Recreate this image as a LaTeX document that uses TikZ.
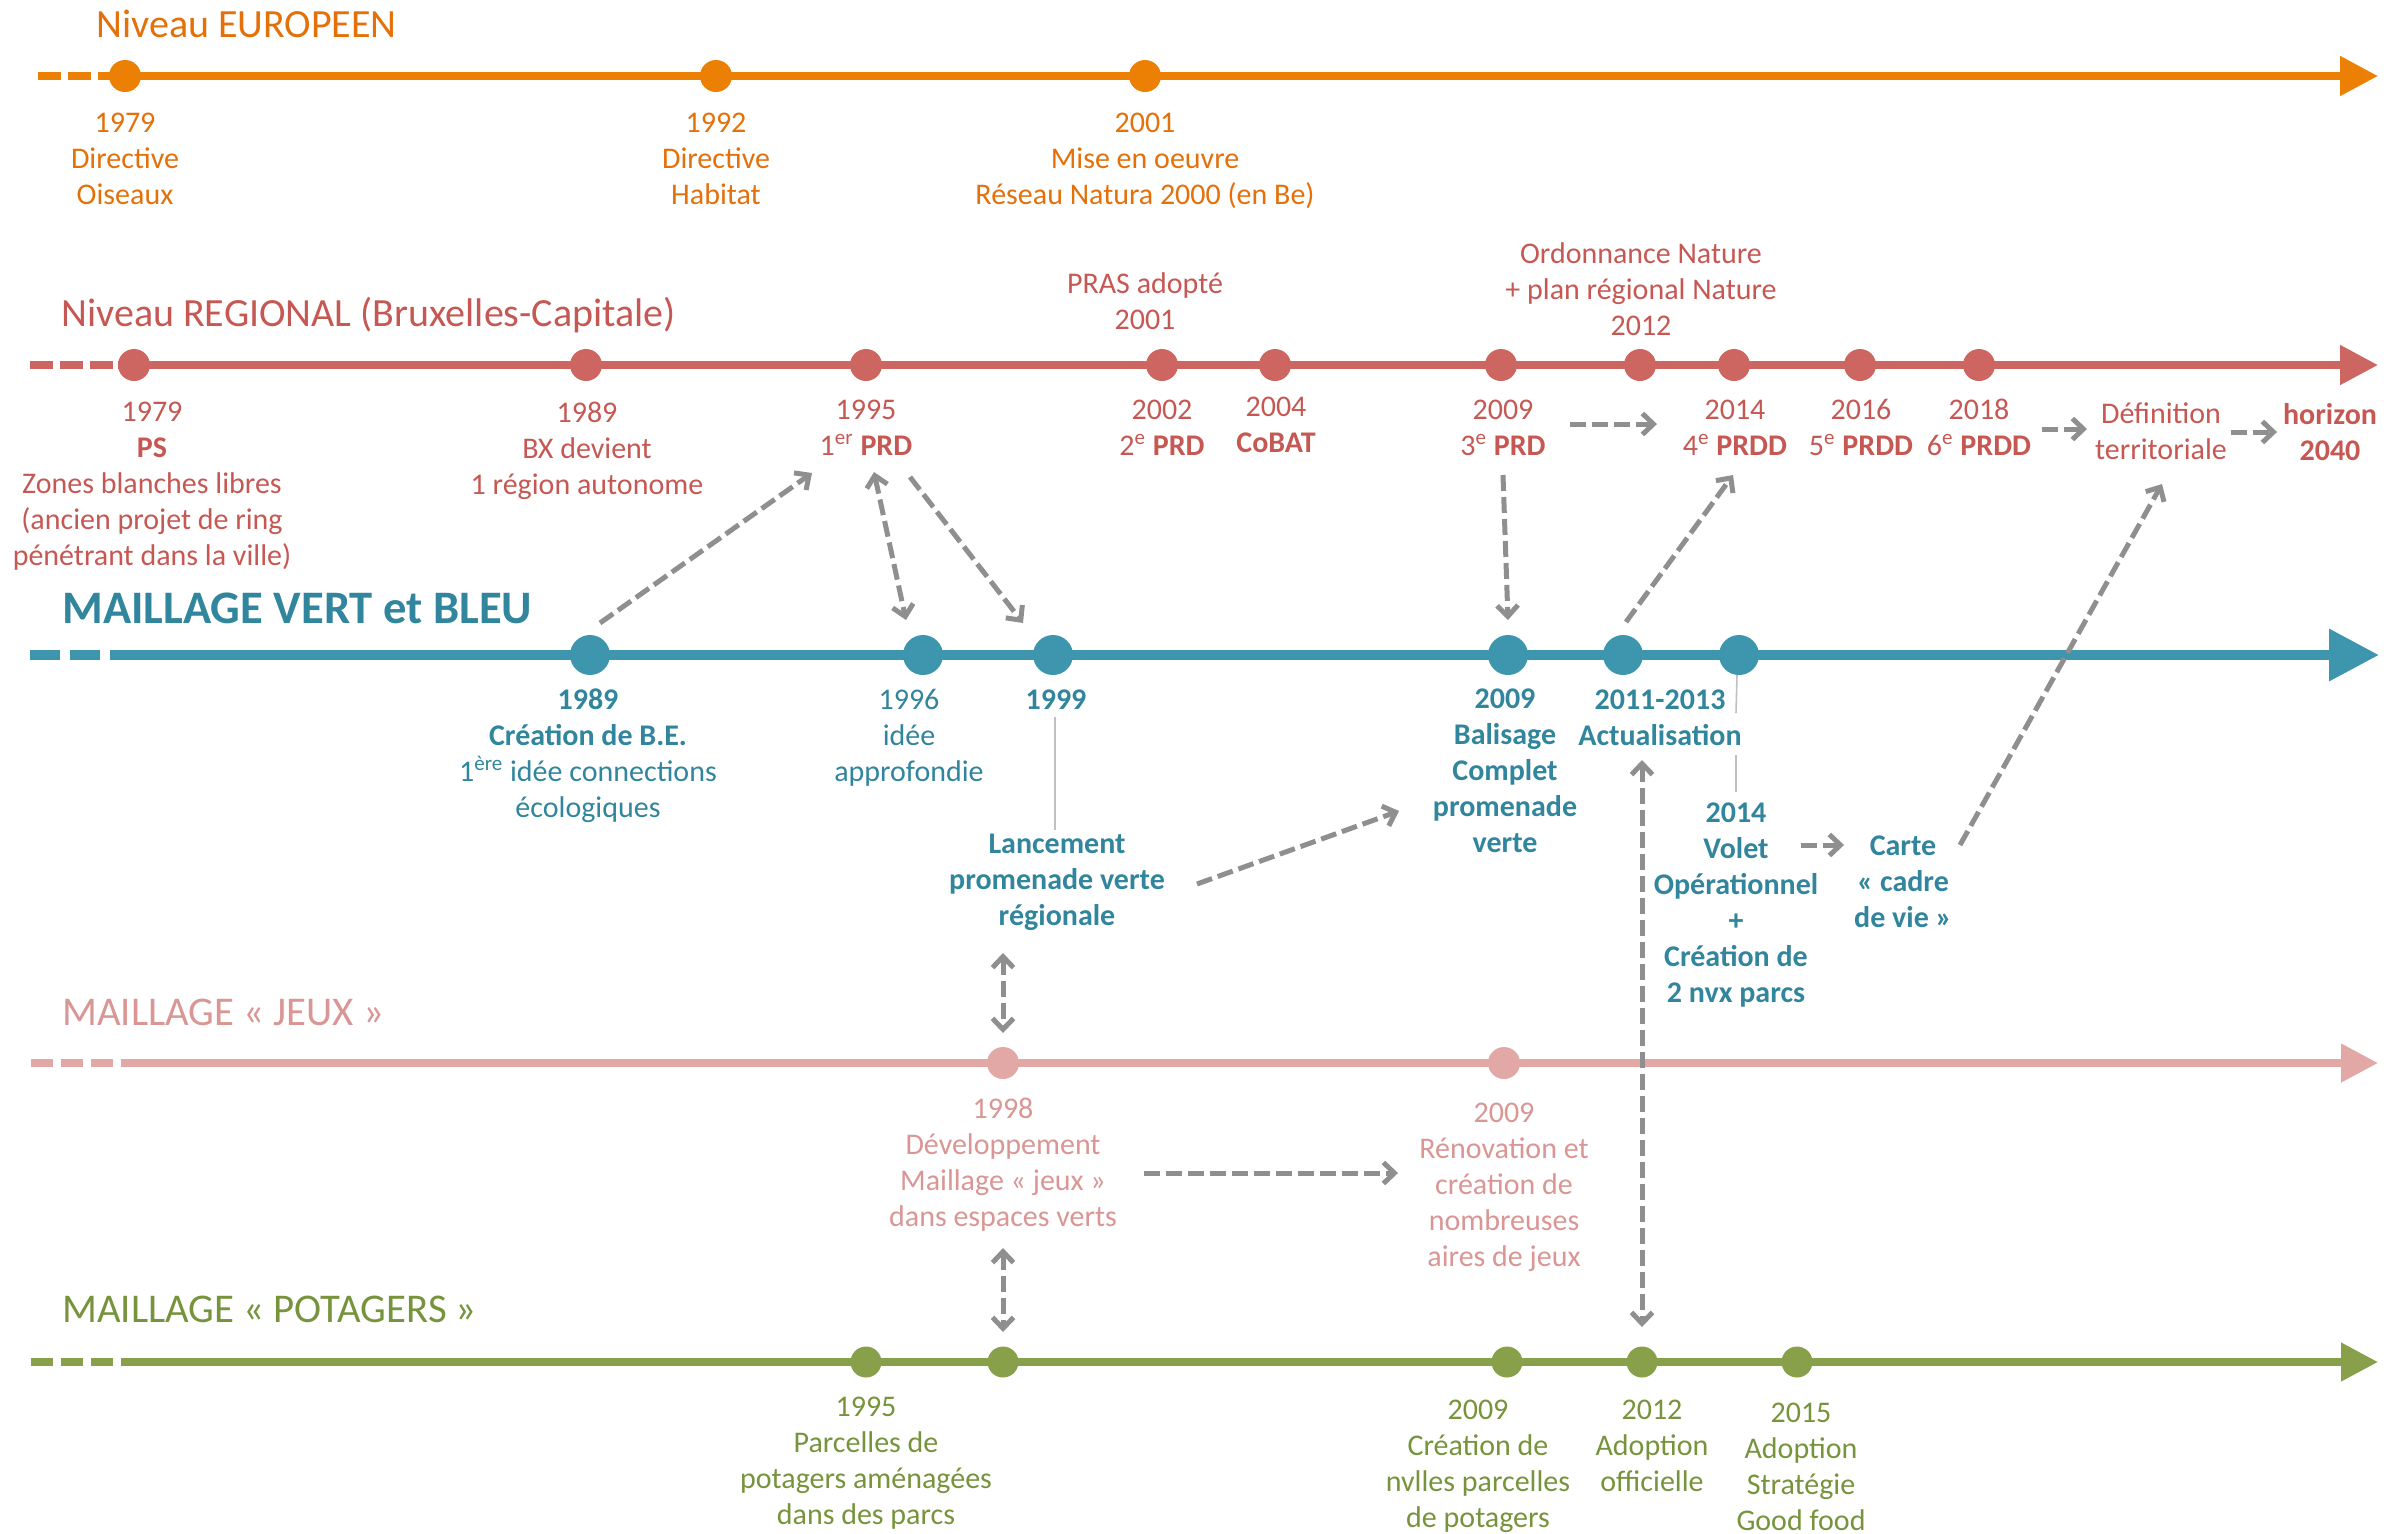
\documentclass[tikz,border=0pt]{standalone}
\usepackage{fontspec}
\setmainfont{Carlito}
\usetikzlibrary{arrows.meta}
\definecolor{euline}{RGB}{236,128,4}
\definecolor{eutext}{RGB}{228,112,10}
\definecolor{regline}{RGB}{205,102,96}
\definecolor{regtext}{RGB}{198,88,84}
\definecolor{vbline}{RGB}{62,150,174}
\definecolor{vbtext}{RGB}{49,133,156}
\definecolor{jxline}{RGB}{226,168,166}
\definecolor{jxtext}{RGB}{217,150,148}
\definecolor{poline}{RGB}{136,160,74}
\definecolor{potext}{RGB}{119,147,60}
\definecolor{lk}{RGB}{143,143,143}
\definecolor{thinln}{RGB}{192,192,192}
\begin{document}
\begin{tikzpicture}[x=0.5pt,y=-0.5pt,
  lbl/.style={align=center,anchor=base,inner sep=0pt,font=\fontsize{15}{18}\selectfont},
  lblb/.style={align=center,anchor=base,inner sep=0pt,font=\fontsize{15}{18}\selectfont\bfseries},
  ttl/.style={anchor=base west,inner sep=0pt},
  dot/.style={circle,inner sep=0pt,minimum size=16pt},
  bigdot/.style={circle,inner sep=0pt,minimum size=20pt},
  link/.style={draw=lk,line width=2.5pt,dash pattern=on 8pt off 3pt,-{Straight Barb[length=5.5pt,width=10.5pt]}},
  blink/.style={draw=lk,line width=2.5pt,dash pattern=on 8pt off 3pt,{Straight Barb[length=5.5pt,width=10.5pt]}-{Straight Barb[length=5.5pt,width=10.5pt]}},
  tline/.style={line width=4pt,-{Triangle[length=19pt,width=19pt]}},
  tdash/.style={line width=4pt,dash pattern=on 11.5pt off 3.5pt},
  thinlink/.style={draw=thinln,line width=0.8pt},
]
\path[use as bounding box] (0,0) rectangle (2394,1533);
% (label nodes are anchored at the baseline of their LAST line)

% ================= EUROPEAN =================
\node[ttl,font=\fontsize{20}{24}\selectfont,text=eutext] (tEU) at (96,37) {Niveau EUROPEEN};
\coordinate (euA) at (38,76); \coordinate (euB) at (112,76); \coordinate (euE) at (2378,76);
\draw[euline,tdash] (euA) -- (euB);
\draw[euline,tline] (euB) -- (euE);
\node[dot,fill=euline] (eu79) at (125,76) {};
\node[dot,fill=euline] (eu92) at (716,76) {};
\node[dot,fill=euline] (eu01) at (1145,76) {};
\node[lbl,text=eutext] (leu79) at (125,204) {1979\\Directive\\Oiseaux};
\node[lbl,text=eutext] (leu92) at (716,204) {1992\\Directive\\Habitat};
\node[lbl,text=eutext] (leu01) at (1145,204) {2001\\Mise en oeuvre\\Réseau Natura 2000 (en Be)};

% ================= REGIONAL =================
\node[ttl,font=\fontsize{20}{24}\selectfont,text=regtext] (tREG) at (61,326) {Niveau REGIONAL (Bruxelles-Capitale)};
\coordinate (rgA) at (30,365); \coordinate (rgB) at (118,365); \coordinate (rgE) at (2378,365);
\draw[regline,tdash] (rgA) -- (rgB);
\draw[regline,tline] (rgB) -- (rgE);
\node[dot,fill=regline] (rg79) at (134,365) {};
\node[dot,fill=regline] (rg89) at (586,365) {};
\node[dot,fill=regline] (rg95) at (866,365) {};
\node[dot,fill=regline] (rg02) at (1162,365) {};
\node[dot,fill=regline] (rg04) at (1275,365) {};
\node[dot,fill=regline] (rg09) at (1501,365) {};
\node[dot,fill=regline] (rg12) at (1640,365) {};
\node[dot,fill=regline] (rg14) at (1734,365) {};
\node[dot,fill=regline] (rg16) at (1860,365) {};
\node[dot,fill=regline] (rg18) at (1979,365) {};
\node[lbl,text=regtext] (lrg79) at (152,565) {1979\\\textbf{PS}\\Zones blanches libres\\(ancien projet de ring\\pénétrant dans la ville)};
\node[lbl,text=regtext] (lrg89) at (587,494) {1989\\BX devient\\1 région autonome};
\node[lbl,text=regtext] (lrg95) at (866,455) {1995\\1\textsuperscript{er} \textbf{PRD}};
\node[lbl,text=regtext] (lpras) at (1145,329) {PRAS adopté\\2001};
\node[lbl,text=regtext] (lrg02) at (1162,455) {2002\\2\textsuperscript{e} \textbf{PRD}};
\node[lbl,text=regtext] (lrg04) at (1276,452) {2004\\\textbf{CoBAT}};
\node[lbl,text=regtext] (lrg12) at (1641,335) {Ordonnance Nature\\+ plan régional Nature\\2012};
\node[lbl,text=regtext] (lrg09) at (1503,455) {2009\\3\textsuperscript{e} \textbf{PRD}};
\node[lbl,text=regtext] (lrg14) at (1735,455) {2014\\4\textsuperscript{e} \textbf{PRDD}};
\node[lbl,text=regtext] (lrg16) at (1861,455) {2016\\5\textsuperscript{e} \textbf{PRDD}};
\node[lbl,text=regtext] (lrg18) at (1979,455) {2018\\6\textsuperscript{e} \textbf{PRDD}};
\node[lbl,text=regtext] (ldef) at (2161,459) {Définition\\territoriale};
\node[lblb,text=regtext] (lhor) at (2330,460) {horizon\\2040};

% ================= VERT ET BLEU =================
\node[ttl,font=\fontsize{23.3}{28}\selectfont\bfseries,text=vbtext] (tVB) at (62,623) {MAILLAGE VERT et BLEU};
\coordinate (vbA) at (30,655); \coordinate (vbB) at (111,655); \coordinate (vbE) at (2379,655);
\draw[vbline,line width=5pt,dash pattern=on 15pt off 5pt] (vbA) -- (vbB);
\draw[vbline,line width=5pt,-{Triangle[length=25pt,width=25pt]}] (vbB) -- (vbE);
\node[bigdot,fill=vbline] (vb89) at (590,655) {};
\node[bigdot,fill=vbline] (vb96) at (923,655) {};
\node[bigdot,fill=vbline] (vb99) at (1053,655) {};
\node[bigdot,fill=vbline] (vb09) at (1508,655) {};
\node[bigdot,fill=vbline] (vb11) at (1623,655) {};
\node[bigdot,fill=vbline] (vb14) at (1739,655) {};
\node[lbl,text=vbtext] (lvb89) at (588,817) {\textbf{1989}\\\textbf{Création de B.E.}\\1\textsuperscript{ère} idée connections\\écologiques};
\node[lbl,text=vbtext] (lvb96) at (909,781) {1996\\idée\\approfondie};
\node[lblb,text=vbtext] (lvb99) at (1056,709) {1999};
\node[lblb,text=vbtext] (llanc) at (1057,925) {Lancement\\promenade verte\\régionale};
\node[lblb,text=vbtext] (lvb09) at (1505,852) {2009\\Balisage\\Complet\\promenade\\verte};
\node[lblb,text=vbtext] (lvb11) at (1660,745) {2011-2013\\Actualisation};
\node[lblb,text=vbtext] (lvb14) at (1736,1002) {2014\\Volet\\Opérationnel\\+\\Création de\\2 nvx parcs};
\node[lblb,text=vbtext] (lcarte) at (1903,927) {Carte\\«~cadre\\de vie~»};
% thin leader lines
\coordinate (q99a) at (1055,717); \coordinate (q99b) at (1055,830);
\draw[thinlink] (q99a) -- (q99b);
\coordinate (q14a) at (1737,675); \coordinate (q14b) at (1736,713);
\coordinate (q14c) at (1736,755); \coordinate (q14d) at (1736,792);
\draw[thinlink] (q14a) -- (q14b);
\draw[thinlink] (q14c) -- (q14d);

% ================= JEUX =================
\node[ttl,font=\fontsize{20.4}{24}\selectfont,text=jxtext] (tJX) at (62,1025) {MAILLAGE «~JEUX~»};
\coordinate (jxA) at (31,1063); \coordinate (jxB) at (122,1063); \coordinate (jxE) at (2378,1063);
\draw[jxline,tdash,dash pattern=on 11pt off 4pt] (jxA) -- (jxB);
\draw[jxline,line width=3.8pt,-{Triangle[length=18.5pt,width=18.5pt]}] (jxB) -- (jxE);
\node[dot,fill=jxline] (jx98) at (1003,1063) {};
\node[dot,fill=jxline] (jx09) at (1504,1063) {};
\node[lbl,text=jxtext] (ljx98) at (1003,1226) {1998\\Développement\\Maillage «~jeux~»\\dans espaces verts};
\node[lbl,text=jxtext] (ljx09) at (1504,1266) {2009\\Rénovation et\\création de\\nombreuses\\aires de jeux};

% ================= POTAGERS =================
\node[ttl,font=\fontsize{20.4}{24}\selectfont,text=potext] (tPO) at (62,1322) {MAILLAGE «~POTAGERS~»};
\coordinate (poA) at (31,1362); \coordinate (poB) at (122,1362); \coordinate (poE) at (2378,1362);
\draw[poline,tdash,dash pattern=on 11pt off 4pt] (poA) -- (poB);
\draw[poline,line width=3.8pt,-{Triangle[length=18.5pt,width=18.5pt]}] (poB) -- (poE);
\node[dot,fill=poline,minimum size=15.5pt] (po95) at (866,1362) {};
\node[dot,fill=poline,minimum size=15.5pt] (po98) at (1003,1362) {};
\node[dot,fill=poline,minimum size=15.5pt] (po09) at (1507,1362) {};
\node[dot,fill=poline,minimum size=15.5pt] (po12) at (1642,1362) {};
\node[dot,fill=poline,minimum size=15.5pt] (po15) at (1797,1362) {};
\node[lbl,text=potext] (lpo95) at (866,1524) {1995\\Parcelles de\\potagers aménagées\\dans des parcs};
\node[lbl,text=potext] (lpo09) at (1478,1527) {2009\\Création de\\nvlles parcelles\\de potagers};
\node[lbl,text=potext] (lpo12) at (1652,1491) {2012\\Adoption\\officielle};
\node[lbl,text=potext] (lpo15) at (1801,1530) {2015\\Adoption\\Stratégie\\Good food};

% ================= GRAY LINKS =================
\coordinate (a1s) at (600,623);  \coordinate (a1e) at (812,473);
\coordinate (a2s) at (874,472);  \coordinate (a2e) at (906,620);
\coordinate (a3s) at (910,477);  \coordinate (a3e) at (1023,623);
\coordinate (a4s) at (1503,475); \coordinate (a4e) at (1508,620);
\coordinate (a5s) at (1626,622); \coordinate (a5e) at (1733,475);
\coordinate (a6s) at (1960,845); \coordinate (a6e) at (2162,484);
\coordinate (a7s) at (1197,884); \coordinate (a7e) at (1399,811);
\coordinate (a8s) at (1003,953); \coordinate (a8e) at (1003,1033);
\coordinate (a9s) at (1003,1248); \coordinate (a9e) at (1003,1332);
\coordinate (a10s) at (1642,760); \coordinate (a10e) at (1642,1327);
\coordinate (a11s) at (1570,424); \coordinate (a11e) at (1657,424);
\coordinate (a12s) at (2042,429); \coordinate (a12e) at (2087,429);
\coordinate (a13s) at (2231,432); \coordinate (a13e) at (2277,432);
\coordinate (a14s) at (1144,1173); \coordinate (a14e) at (1398,1173);
\coordinate (a15s) at (1801,845); \coordinate (a15e) at (1844,845);
\draw[link] (a1s) -- (a1e);
\draw[blink] (a2s) -- (a2e);
\draw[link] (a3s) -- (a3e);
\draw[link] (a4s) -- (a4e);
\draw[link] (a5s) -- (a5e);
\draw[link] (a6s) -- (a6e);
\draw[link] (a7s) -- (a7e);
\draw[blink] (a8s) -- (a8e);
\draw[blink] (a9s) -- (a9e);
\draw[blink] (a10s) -- (a10e);
\draw[link] (a11s) -- (a11e);
\draw[link] (a12s) -- (a12e);
\draw[link] (a13s) -- (a13e);
\draw[link] (a14s) -- (a14e);
\draw[link] (a15s) -- (a15e);
\end{tikzpicture}
\end{document}
